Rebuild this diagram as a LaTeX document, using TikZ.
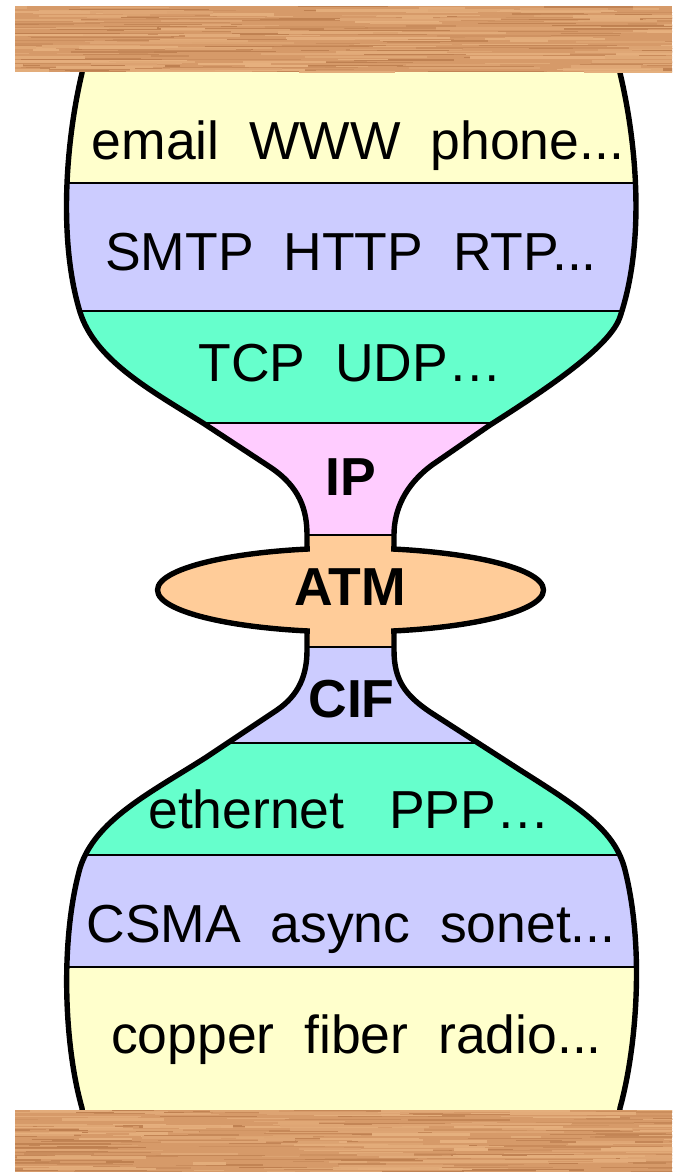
\documentclass[tikz,border=0pt]{standalone}
\usepackage{fontspec}
\setmainfont{Liberation Sans}

\definecolor{appyellow}{HTML}{FFFFCC}
\definecolor{lavender}{HTML}{CCCCFF}
\definecolor{mint}{HTML}{66FFCC}
\definecolor{pinkband}{HTML}{FFCCFF}
\definecolor{peach}{HTML}{FFCC99}
\definecolor{woodbase}{RGB}{214,154,105}
\definecolor{wooddark}{RGB}{172,108,62}
\definecolor{woodlight}{RGB}{234,182,132}

\tikzset{
  sepline/.style={line width=1.7pt, draw=black},
  rim/.style={line width=5.4pt, line join=round, draw=black},
  layertext/.style={font=\fontsize{53.5}{60}\selectfont, anchor=base, inner sep=0pt},
  layerbold/.style={font=\fontsize{53.5}{60}\selectfont\bfseries, anchor=base, inner sep=0pt},
}

% outline of the hourglass (neck runs straight through the ATM waist)
\def\hourglass{(83,60) -- (82,73)
  .. controls (66,140) and (58,240) .. (80,312)
  .. controls (95,360) and (150,390) .. (203,423)
  -- (270,467)
  .. controls (300,487) and (307,510) .. (307,535)
  -- (307,650)
  .. controls (307,675) and (299,695) .. (277,710)
  -- (205,758)
  .. controls (150,793) and (95,820) .. (80,868)
  .. controls (60,940) and (64,1045) .. (82,1108)
  -- (83,1120) -- (619,1120) -- (620,1108)
  .. controls (636,1050) and (645,950) .. (625,870)
  .. controls (615,830) and (580,808) .. (520,770)
  -- (430,712)
  .. controls (405,695) and (394,680) .. (394,650)
  -- (394,535)
  .. controls (394,510) and (405,485) .. (432,465)
  -- (490,425)
  .. controls (545,390) and (610,347) .. (620,317)
  .. controls (646,240) and (636,140) .. (620,73)
  -- (619,60) -- cycle}

% a wooden board with fine random grain streaks
\newcommand\woodboard[4]{%
  \fill[woodbase] (#1,#2) rectangle (#3,#4);
  \begin{scope}
    \clip (#1,#2) rectangle (#3,#4);
    \foreach \k in {1,...,190} {
      \pgfmathsetmacro\sx{#1-60+rnd*(#3-#1+60)}
      \pgfmathsetmacro\sy{#2+rnd*(#4-#2)}
      \pgfmathsetmacro\sl{25+rnd*120}
      \pgfmathsetmacro\sw{0.5+rnd*1.4}
      \pgfmathtruncatemacro\so{15+rnd*45}
      \draw[draw=wooddark!\so!woodbase, line width=\sw pt] (\sx,\sy) -- ++(\sl,0);
    }
    \foreach \k in {1,...,150} {
      \pgfmathsetmacro\sx{#1-60+rnd*(#3-#1+60)}
      \pgfmathsetmacro\sy{#2+rnd*(#4-#2)}
      \pgfmathsetmacro\sl{25+rnd*110}
      \pgfmathsetmacro\sw{0.8+rnd*2}
      \pgfmathtruncatemacro\so{30+rnd*50}
      \draw[draw=woodlight!\so!woodbase, line width=\sw pt] (\sx,\sy) -- ++(\sl,0);
    }
  \end{scope}
}

\begin{document}
\begin{tikzpicture}[x=1pt, y=-1pt]
  \pgfmathsetseed{4242}
  \useasboundingbox (0,0) rectangle (672,1172);
  \fill[white] (0,0) rectangle (672,1172);

  % coloured layers, clipped to the hourglass
  \begin{scope}
    \clip \hourglass;
    \fill[appyellow] (0,0) rectangle (672,183);
    \fill[lavender] (0,183) rectangle (672,311);
    \fill[mint] (0,311) rectangle (672,423);
    \fill[pinkband] (0,423) rectangle (672,535);
    \fill[peach] (0,535) rectangle (672,647);
    \fill[lavender] (0,647) rectangle (672,743);
    \fill[mint] (0,743) rectangle (672,855);
    \fill[lavender] (0,855) rectangle (672,967);
    \fill[appyellow] (0,967) rectangle (672,1172);
    \foreach \yy in {183,311,423,535,647,743,855,967}
      \draw[sepline] (0,\yy) -- (672,\yy);
  \end{scope}
  \draw[rim] \hourglass;

  % ATM waist bulge
  \path[fill=peach, rim] (350.5,590) ellipse [x radius=193, y radius=42];
  \fill[peach] (310.2,536.2) rectangle (390.8,645.8);

  % layer labels
  \node[layertext] (app) at (358,159) {email\ \ WWW\ \ phone...};
  \node[layertext] (svc) at (351,270) {SMTP\ \ HTTP\ \ RTP...};
  \node[layertext] (trn) at (350,381) {TCP\ \ UDP…};
  \node[layerbold] (ip) at (350.5,495) {IP};
  \node[layerbold] (atm) at (350,605) {ATM};
  \node[layerbold] (cif) at (351.5,717) {CIF};
  \node[layertext] (lnk) at (349,828) {ethernet\ \ \ PPP…};
  \node[layertext] (mac) at (351,942) {CSMA\ \ async\ \ sonet...};
  \node[layertext] (phy) at (356.5,1053) {copper\ \ fiber\ \ radio...};

  % wooden boards above and below
  \woodboard{15}{6}{672}{72}
  \woodboard{15}{1110}{672}{1172}
\end{tikzpicture}
\end{document}
